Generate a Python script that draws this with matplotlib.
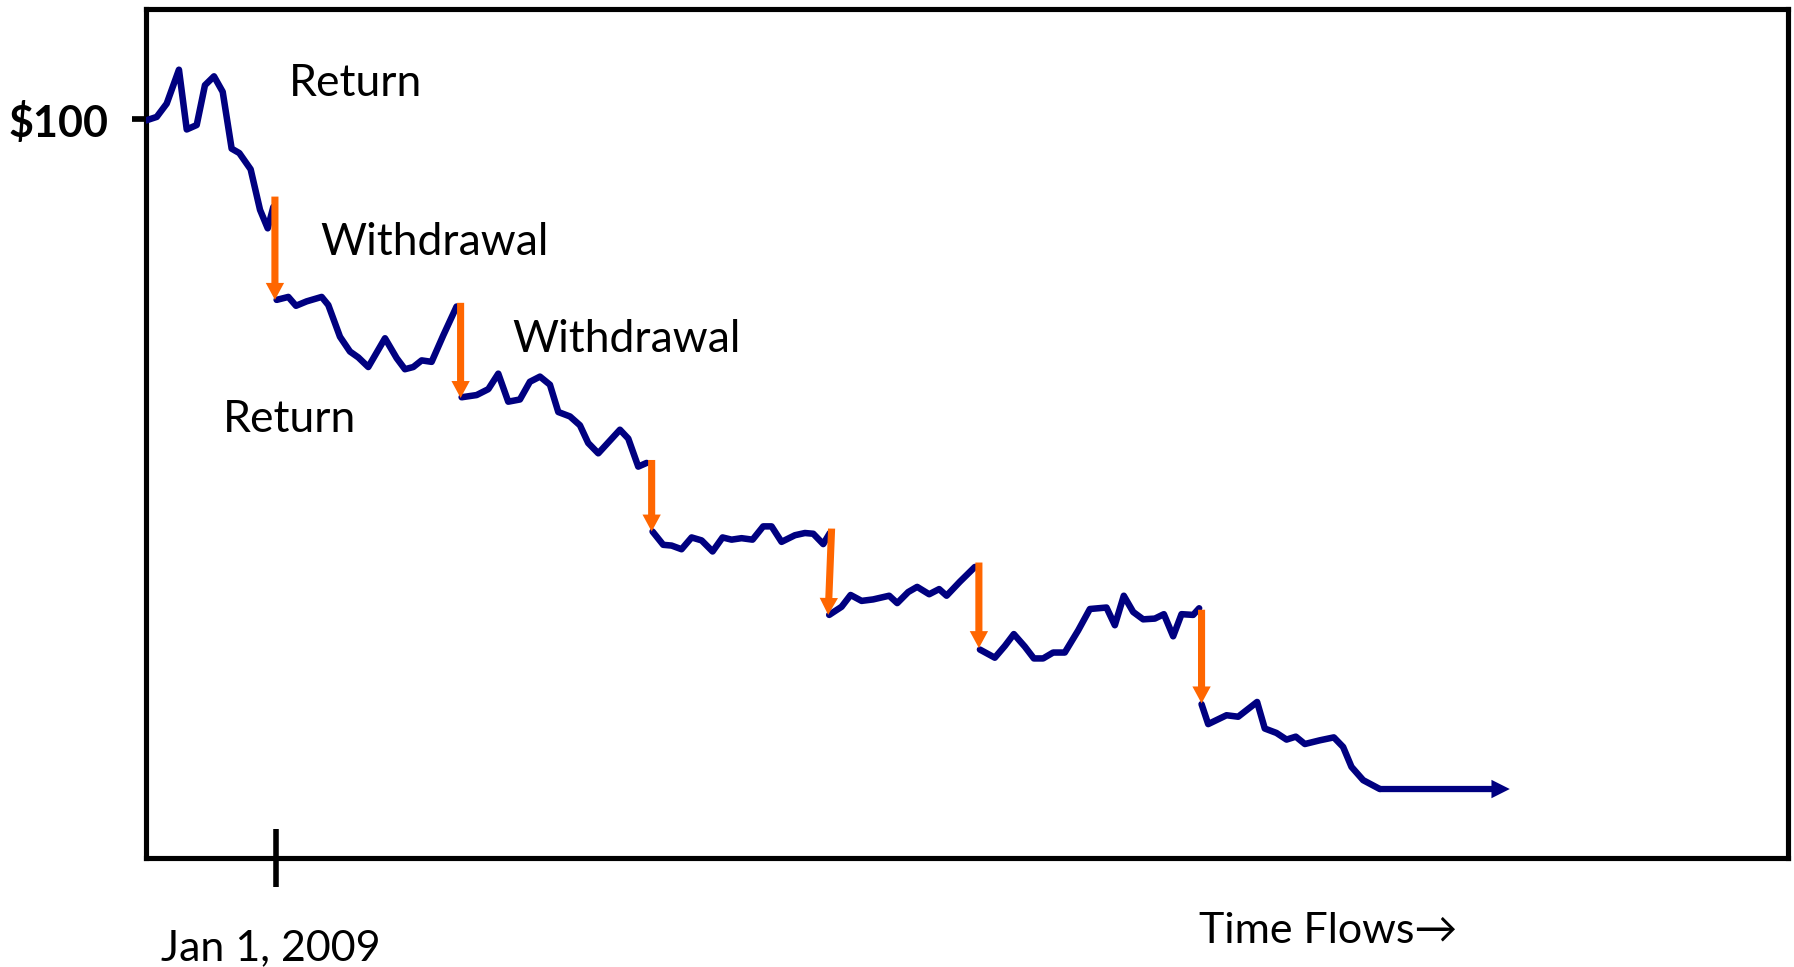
import matplotlib

matplotlib.use("Agg")
import matplotlib.pyplot as plt

# Account value ($) over time (weeks); each list is one stretch between withdrawals
SEG_T = [
    [0.0, 0.98, 1.85, 2.92, 3.6, 4.47, 5.19, 5.98, 6.74, 7.52, 8.19, 9.18, 10.0, 10.67, 11.16],
    [11.45, 12.47, 13.14, 14.07, 15.38, 15.96, 16.98, 17.85, 18.58, 19.45, 20.91, 21.93,
     22.65, 23.38, 24.11, 24.98, 26.0, 27.16],
    [27.6, 28.91, 29.93, 30.8, 31.67, 32.69, 33.56, 34.44, 35.31, 36.04, 37.06, 37.93,
     38.65, 39.53, 41.42, 42.15, 43.02, 43.75],
    [44.27, 45.2, 45.93, 46.8, 47.68, 48.55, 49.51, 50.38, 51.17, 52.04, 53.0, 53.93,
     54.66, 55.53, 56.7, 57.57, 58.3, 59.17, 59.75],
    [59.69, 60.77, 61.56, 62.52, 63.53, 64.93, 65.63, 66.59, 67.37, 68.42, 69.29, 69.94,
     71.1, 72.41],
    [72.85, 74.15, 75.03, 75.81, 76.77, 77.56, 78.37, 79.24, 80.26, 81.43, 82.45, 83.9,
     84.63, 85.41, 86.23, 87.1, 88.12, 88.91, 89.72, 90.45, 91.47, 91.99],
    [92.2, 92.78, 94.38, 95.4, 97.05, 97.72, 98.74, 99.62, 100.43, 101.22, 102.52, 103.75,
     104.56, 105.29, 106.31, 107.76],
]
SEG_V = [
    [99.8, 100.3, 102.1, 106.7, 98.6, 99.2, 104.6, 105.8, 103.7, 96.0, 95.4, 93.2, 87.7, 85.2, 88.1],
    [75.5, 75.9, 74.7, 75.3, 75.9, 74.8, 70.5, 68.5, 67.7, 66.4, 70.3, 67.6,
     66.1, 66.4, 67.3, 67.1, 70.7, 74.6],
    [62.3, 62.6, 63.4, 65.5, 61.7, 62.0, 64.4, 65.1, 64.0, 60.3, 59.7, 58.5,
     56.1, 54.7, 57.9, 56.7, 52.9, 53.4],
    [44.1, 42.3, 42.2, 41.7, 43.3, 42.9, 41.4, 43.3, 43.0, 43.2, 43.0, 44.8,
     44.8, 42.7, 43.6, 43.9, 43.8, 42.4, 43.9],
    [32.8, 33.9, 35.5, 34.7, 34.9, 35.4, 34.4, 35.9, 36.6, 35.6, 36.3, 35.4, 37.3, 39.3],
    [28.1, 27.0, 28.6, 30.2, 28.5, 26.9, 26.9, 27.7, 27.7, 30.7, 33.6, 33.8,
     31.4, 35.4, 33.2, 32.2, 32.3, 32.9, 29.9, 32.9, 32.8, 33.7],
    [20.7, 18.0, 19.2, 19.0, 21.0, 17.4, 16.8, 15.9, 16.3, 15.3, 15.8, 16.2,
     14.9, 12.2, 10.4, 9.2],
]

# withdrawals: time at top, time at tip, value before, value after
WD_T0 = [11.3, 27.51, 44.19, 59.9, 72.76, 92.2]
WD_T1 = [11.3, 27.51, 44.19, 59.6, 72.76, 92.2]
WD_FROM = [89.5, 75.1, 53.8, 44.5, 39.9, 33.5]
WD_TO = [75.5, 62.2, 44.1, 32.8, 28.3, 20.8]

END_T = 119.11          # tail of the flat "time flows" arrow
START_VALUE = 100
START_DATE_T = 11.4

LABELS = ["Return", "Withdrawal", "Withdrawal", "Return"]
LABEL_T = [12.55, 15.3, 32.0, 6.75]
LABEL_V = [103.17, 81.58, 68.47, 57.63]

NAVY = "#000080"
ORANGE = "#ff6600"
FONT = ["Lato", "DejaVu Sans"]
FS = 32

plt.rcParams["font.family"] = FONT

fig = plt.figure(figsize=(17.94, 9.67), dpi=100)
ax = fig.add_axes([145.5 / 1794, 1 - 858 / 967, (1788 - 145.5) / 1794, (858 - 9.2) / 967])
ax.set_xlim(0, 143.4)
ax.set_ylim(-0.15, 114.9)

for sp in ax.spines.values():
    sp.set_linewidth(3.7)
    sp.set_color("black")

for t, v in zip(SEG_T, SEG_V):
    ax.plot(t, v, color=NAVY, lw=4.7, solid_joinstyle="round", solid_capstyle="round", zorder=3)

# flat tail with arrow head
ax.arrow(SEG_T[-1][-1], SEG_V[-1][-1], END_T - SEG_T[-1][-1], 0, width=0.85,
         head_width=2.5, head_length=1.6, length_includes_head=True,
         color=NAVY, lw=0, zorder=3)

for t0, t1, v0, v1 in zip(WD_T0, WD_T1, WD_FROM, WD_TO):
    ax.arrow(t0, v0, t1 - t0, v1 - v0, width=0.62, head_width=1.6, head_length=2.3,
             length_includes_head=True, color=ORANGE, lw=0, zorder=4)

for s, t, v in zip(LABELS, LABEL_T, LABEL_V):
    ax.text(t, v, s, fontsize=FS, ha="left", va="baseline", color="black")

ax.set_yticks([START_VALUE])
ax.set_yticklabels([f"${START_VALUE}"], fontsize=31, fontweight="bold")
ax.tick_params(axis="y", length=9.8, width=4.1, pad=17, direction="out")
ax.set_xticks([START_DATE_T])
ax.set_xticklabels([""])
ax.tick_params(axis="x", length=41.8, width=4.0, direction="inout")

ax.text(10.9, -13.97, "Jan 1, 2009", fontsize=31, ha="center", va="baseline", clip_on=False)
ax.text(92.0, -11.71, "Time Flows\u2192", fontsize=31, ha="left", va="baseline", clip_on=False)

fig.savefig("out.png", dpi=100)
